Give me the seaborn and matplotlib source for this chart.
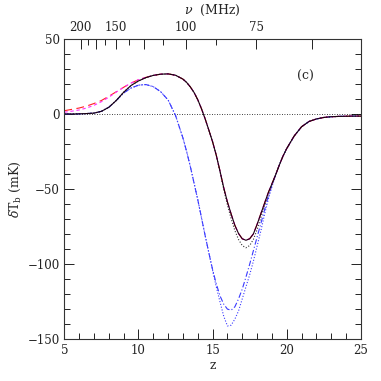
import matplotlib
matplotlib.use('Agg')
import matplotlib.pyplot as plt
from matplotlib.ticker import MultipleLocator, FixedLocator
import seaborn as sns

# redshift grid (denser around the absorption trough)
z = [5.0, 5.5, 6.0, 6.5, 7.0, 7.5, 8.0, 8.5, 9.0, 9.5, 10.0, 10.5, 11.0, 11.5,
     12.0, 12.5, 13.0, 13.25, 13.5, 13.75, 14.0, 14.25, 14.5, 14.75, 15.0,
     15.25, 15.5, 15.75, 16.0, 16.25, 16.5, 16.75, 17.0, 17.25, 17.5, 17.75,
     18.0, 18.25, 18.5, 18.75, 19.0, 19.25, 19.5, 19.75, 20.0, 20.5, 21.0,
     21.5, 22.0, 22.5, 23.0, 23.5, 24.0, 24.5, 25.0]

# black solid
t_solid = [0.0, 0.0, 0.1, 0.3, 0.6, 1.8, 4.5, 9.0, 14.5, 19.0, 22.0, 24.2, 25.7, 26.5,
           26.7, 25.8, 23.2, 21.0, 18.0, 14.3, 9.5, 3.5, -3.3, -10.8, -18.5,
           -27.5, -38.0, -49.0, -58.5, -66.5, -74.0, -79.5, -83.0, -84.0, -83.0, -79.8,
           -73.5, -66.5, -59.5, -52.5, -46.5, -40.5, -34.0, -28.0, -23.0, -14.7, -8.5,
           -5.0, -3.3, -2.3, -1.8, -1.6, -1.5, -1.4, -1.4]

# black dotted
t_kdot = [0.0, 0.0, 0.1, 0.3, 0.6, 1.8, 4.5, 9.0, 14.5, 19.0, 22.0, 24.2, 25.7, 26.5,
          26.7, 25.8, 23.2, 21.0, 18.0, 14.3, 9.5, 3.5, -3.3, -10.8, -18.5,
          -27.5, -38.5, -50.0, -60.5, -69.5, -77.5, -83.5, -87.5, -89.0, -87.5, -83.5,
          -77.0, -69.0, -61.0, -53.5, -47.0, -40.5, -34.0, -28.0, -23.0, -14.7, -8.5,
          -5.0, -3.3, -2.3, -1.8, -1.6, -1.5, -1.4, -1.4]

# red long dashes
t_red = [2.2, 3.1, 4.0, 5.3, 7.0, 9.0, 11.8, 14.8, 17.8, 20.6, 22.8, 24.4, 25.7, 26.5,
         26.7, 25.8, 23.2, 21.0, 18.0, 14.3, 9.5, 3.5, -3.3, -10.8, -18.5,
         -27.5, -38.0, -49.0, -58.5, -66.5, -74.0, -79.5, -83.0, -84.0, -83.0, -79.8,
         -73.5, -66.5, -59.5, -52.5, -46.5, -40.5, -34.0, -28.0, -23.0, -14.7, -8.5,
         -5.0, -3.3, -2.3, -1.8, -1.6, -1.5, -1.4, -1.4]

# magenta short dashes
t_mag = [1.2, 1.9, 2.7, 4.0, 5.8, 8.2, 11.2, 14.6, 17.8, 20.6, 22.8, 24.4, 25.7, 26.5,
         26.7, 25.8, 23.2, 21.0, 18.0, 14.3, 9.5, 3.5, -3.3, -10.8, -18.5,
         -27.5, -38.0, -49.0, -58.5, -66.5, -74.0, -79.5, -83.0, -84.0, -83.0, -79.8,
         -73.5, -66.5, -59.5, -52.5, -46.5, -40.5, -34.0, -28.0, -23.0, -14.7, -8.5,
         -5.0, -3.3, -2.3, -1.8, -1.6, -1.5, -1.4, -1.4]

# blue dash-dot
t_bdd = [0.0, 0.0, 0.1, 0.3, 0.6, 1.8, 4.5, 9.0, 14.0, 17.3, 19.2, 19.6, 18.2, 14.8,
         9.3, -1.0, -16.0, -25.0, -35.0, -46.0, -57.0, -69.0, -81.0, -92.5, -103.5,
         -113.0, -121.0, -126.5, -129.8, -130.5, -128.3, -123.0, -116.5, -108.5, -100.0, -91.0,
         -82.0, -73.0, -64.0, -55.0, -47.5, -40.8, -34.0, -28.0, -23.0, -14.7, -8.5,
         -5.0, -3.3, -2.3, -1.8, -1.6, -1.5, -1.4, -1.4]

# blue dotted
t_bdot = [0.0, 0.0, 0.1, 0.3, 0.6, 1.8, 4.5, 9.0, 14.0, 17.3, 19.2, 19.6, 18.2, 14.8,
          9.3, -1.0, -16.0, -25.0, -35.0, -46.0, -57.0, -69.0, -81.0, -92.5, -104.0,
          -115.0, -125.0, -134.5, -141.0, -140.5, -136.5, -131.0, -123.0, -115.0, -107.0, -98.0,
          -88.0, -78.0, -67.0, -57.0, -48.5, -41.0, -34.0, -28.0, -23.0, -14.7, -8.5,
          -5.0, -3.3, -2.3, -1.8, -1.6, -1.5, -1.4, -1.4]

nu_major = [200, 175, 150, 125, 100, 75, 62.5]
nu_labels = ['200', '', '150', '', '100', '75', '']
nu_minor = [187.5, 162.5, 137.5, 112.5, 87.5]

sns.set_style('ticks')
plt.rcParams['font.family'] = ['DejaVu Serif']
plt.rcParams['mathtext.fontset'] = 'dejavuserif'

fig = plt.figure(figsize=(3.81, 3.81), dpi=100)
ax = fig.add_axes([0.169, 0.109, 0.778, 0.789])

ax.axhline(0, color='k', lw=0.6, ls=(0, (1, 2)))

# order matters: black solid goes on top so the trough looks dark
series = [
    (t_bdot, '#3a3aff', (0, (1, 1.6))),
    (t_bdd, '#3a3aff', (0, (5, 2, 1, 2))),
    (t_red, '#ff2020', (0, (7, 4))),
    (t_mag, '#ff30ff', (0, (3, 2.5))),
    (t_kdot, '#333333', (0, (1, 1.6))),
    (t_solid, '#1a0010', '-'),
]
for vals, col, ls in series:
    sns.lineplot(x=z, y=vals, ax=ax, color=col, lw=0.8, linestyle=ls)

ax.set_xlim(5, 25)
ax.set_ylim(-150, 50)
ax.xaxis.set_major_locator(MultipleLocator(5))
ax.xaxis.set_minor_locator(MultipleLocator(1))
ax.yaxis.set_major_locator(MultipleLocator(50))
ax.yaxis.set_minor_locator(MultipleLocator(10))
ax.tick_params(which='both', direction='in', top=False, right=True,
               labelsize=8.5, width=0.7, colors='#222222')
ax.tick_params(which='major', length=7)
ax.tick_params(which='minor', length=4)
for s in ax.spines.values():
    s.set_linewidth(0.8)
    s.set_color('#333333')

ax.set_xlabel('z', fontsize=9, labelpad=1)
ax.set_ylabel(r'$\delta$T$_{\rm b}$ (mK)', fontsize=9, labelpad=3)

# frequency axis on top
sec = ax.secondary_xaxis('top', functions=(lambda x: 1420.4 / (1 + x),
                                           lambda n: 1420.4 / n - 1))
sec.set_xticks(nu_major)
sec.set_xticklabels(nu_labels)
sec.xaxis.set_minor_locator(FixedLocator(nu_minor))
sec.tick_params(which='both', direction='in', labelsize=8.5, width=0.7, colors='#222222')
sec.tick_params(which='major', length=7)
sec.tick_params(which='minor', length=4)
sec.spines['top'].set_visible(False)
sec.set_xlabel(r'$\nu$  (MHz)', fontsize=9, labelpad=5)

ax.text(0.812, 0.874, '(c)', transform=ax.transAxes, fontsize=9,
        ha='center', va='center')

fig.savefig('out.png', dpi=100)
